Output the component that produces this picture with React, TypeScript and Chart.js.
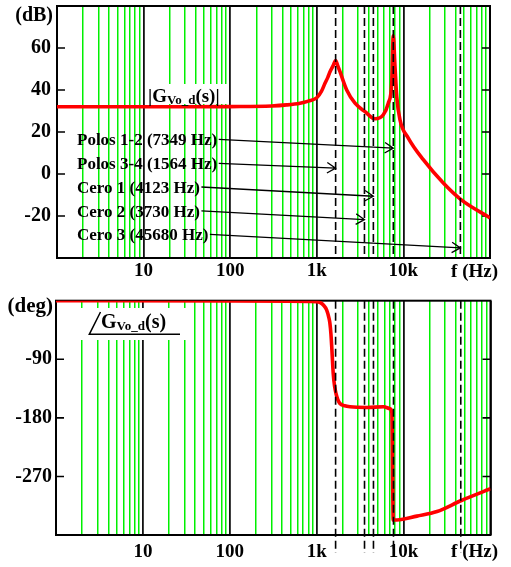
import React, { useEffect, useRef } from "react";
import { Chart, registerables } from "chart.js";
Chart.register(...registerables);

const FONT = "'Liberation Serif', 'Times New Roman', serif";

// x axis (log frequency)
const xMin = 1;
const xMax = 100000;
const decadeStarts = [1, 10, 100, 1000, 10000];
const decadeMultipliers = [1, 2, 3, 4, 5, 6, 7, 8, 9];
const majorTickValues = [10, 100, 1000, 10000];
const majorTickLabels = ["10", "100", "1k", "10k"];

// magnitude |Gvo_d(s)| (dB)
const magFreq = [1, 30, 100, 300, 450, 640, 800, 1000, 1130, 1243, 1340, 1421, 1540, 1652, 1753, 1853, 2215, 2761, 3602, 4700, 5860, 6690, 7330, 7640, 8000, 8370, 9135, 11390, 16980, 28890, 46250, 100000];
const magDb = [32, 32, 32.1, 32.4, 32.9, 33.7, 34.7, 36.3, 39.3, 43.2, 46, 48.7, 51.5, 54, 51.3, 48.7, 40, 33.7, 29.7, 26.3, 28.2, 33.7, 43.2, 65.8, 51, 37, 25.8, 17.1, 6.8, -4.3, -12.2, -20.9];

// phase (deg)
const phaseFreq = [1, 100, 500, 800, 1000, 1100, 1200, 1300, 1380, 1420, 1460, 1490, 1550, 1610, 1670, 1750, 1850, 2100, 2420, 3770, 5860, 7000, 7330, 7600, 8370, 14240, 24240, 46250, 100000];
const phaseDeg = [0, -0.2, -0.6, -1, -1.5, -3, -7, -14, -26, -35, -52, -71, -112, -132, -143, -152, -158, -161.5, -163, -164, -163, -166, -172, -337, -337, -331, -324, -307, -289];

// dashed marker frequencies
const markerFreqs = [1650, 3550, 4500, 7650, 45500];

// annotations
const noteLabels = ["Polos 1-2 (7349 Hz)", "Polos 3-4 (1564 Hz)", "Cero 1 (4123 Hz)", "Cero 2 (3730 Hz)", "Cero 3 (45680 Hz)"];
const noteTargetFreq = [7650, 1650, 4500, 3550, 45500];
const noteTargetDb = [12.3, 2.8, -10.6, -21.7, -35.2];

const magTicks = [-20, 0, 20, 40, 60];
const phaseTicks = [-90, -180, -270];

const gridValues: number[] = [];
decadeStarts.forEach((d) => decadeMultipliers.forEach((m) => gridValues.push(d * m)));
gridValues.push(xMax);

const isDecade = (v: number) => {
  const l = Math.log10(v);
  return Math.abs(l - Math.round(l)) < 1e-9;
};

function drawG(ctx: CanvasRenderingContext2D, x: number, y: number, prefix: string, suffix: string, main: number, sub: number, shift: number) {
  ctx.textAlign = "left";
  ctx.textBaseline = "alphabetic";
  ctx.font = `bold ${main}px ${FONT}`;
  const a = prefix + "G";
  ctx.fillText(a, x, y);
  x += ctx.measureText(a).width;
  ctx.font = `bold ${sub}px ${FONT}`;
  ctx.fillText("Vo_d", x, y + shift);
  x += ctx.measureText("Vo_d").width;
  ctx.font = `bold ${main}px ${FONT}`;
  const b = "(s)" + suffix;
  ctx.fillText(b, x, y);
  return x + ctx.measureText(b).width;
}

function drawArrow(ctx: CanvasRenderingContext2D, x1: number, y1: number, x2: number, y2: number) {
  ctx.beginPath();
  ctx.moveTo(x1, y1);
  ctx.lineTo(x2, y2);
  const a = Math.atan2(y2 - y1, x2 - x1);
  const L = 10, th = 0.55;
  ctx.moveTo(x2 - L * Math.cos(a - th), y2 - L * Math.sin(a - th));
  ctx.lineTo(x2, y2);
  ctx.lineTo(x2 - L * Math.cos(a + th), y2 - L * Math.sin(a + th));
  ctx.stroke();
}

function frameAndTicks(chart: any, ticks: number[]) {
  const { ctx, chartArea: ca } = chart;
  const y = chart.scales.y;
  ctx.save();
  ctx.strokeStyle = "#000";
  ctx.lineWidth = 2;
  ctx.strokeRect(ca.left, ca.top, ca.right - ca.left, ca.bottom - ca.top);
  ctx.lineWidth = 1.6;
  ctx.beginPath();
  ticks.forEach((t) => {
    const py = y.getPixelForValue(t);
    ctx.moveTo(ca.left, py);
    ctx.lineTo(ca.left + 8, py);
    ctx.moveTo(ca.right - 8, py);
    ctx.lineTo(ca.right, py);
  });
  ctx.stroke();
  ctx.restore();
}

function dashedMarkers(chart: any, bottomExtra: number) {
  const { ctx, chartArea: ca } = chart;
  const x = chart.scales.x;
  ctx.save();
  ctx.strokeStyle = "#000";
  ctx.lineWidth = 1.6;
  ctx.setLineDash([8, 4]);
  markerFreqs.forEach((f) => {
    const px = x.getPixelForValue(f);
    ctx.beginPath();
    ctx.moveTo(px, ca.top);
    ctx.lineTo(px, ca.bottom + bottomExtra);
    ctx.stroke();
  });
  ctx.restore();
}

const magPlugin = {
  id: "magDecor",
  beforeDatasetsDraw(chart: any) {
    const ctx = chart.ctx;
    ctx.save();
    ctx.fillStyle = "#fff";
    ctx.fillRect(146, 84, 82, 20);
    ctx.restore();
    frameAndTicks(chart, magTicks);
  },
  afterDatasetsDraw(chart: any) {
    const ctx = chart.ctx;
    dashedMarkers(chart, 0);
    ctx.save();
    ctx.fillStyle = "#000";
    drawG(ctx, 148, 101.5, "|", "|", 19, 13, 2);
    ctx.font = `bold 20px ${FONT}`;
    ctx.textAlign = "right";
    ctx.fillText("(dB)", 53, 21);
    ctx.font = `bold 19px ${FONT}`;
    ctx.fillText("f (Hz)", 498, 276.5);
    const baselines = [145, 169, 192.7, 216.5, 240];
    ctx.textAlign = "left";
    ctx.strokeStyle = "#000";
    ctx.lineWidth = 1.3;
    noteLabels.forEach((t, i) => {
      ctx.font = `bold 17px ${FONT}`;
      ctx.fillText(t, 77, baselines[i]);
      const w = ctx.measureText(t).width;
      const tx = chart.scales.x.getPixelForValue(noteTargetFreq[i]);
      const ty = chart.scales.y.getPixelForValue(noteTargetDb[i]);
      drawArrow(ctx, 77 + w + 1.5, baselines[i] - 5.7, tx, ty);
    });
    ctx.restore();
  },
};

const phasePlugin = {
  id: "phaseDecor",
  beforeDatasetsDraw(chart: any) {
    const ctx = chart.ctx;
    ctx.save();
    ctx.fillStyle = "#fff";
    ctx.fillRect(76, 25, 114, 32);
    ctx.restore();
    frameAndTicks(chart, phaseTicks);
  },
  afterDatasetsDraw(chart: any) {
    const ctx = chart.ctx;
    dashedMarkers(chart, 18);
    ctx.save();
    ctx.fillStyle = "#000";
    ctx.strokeStyle = "#000";
    ctx.lineWidth = 1.5;
    ctx.beginPath();
    ctx.moveTo(100.5, 29);
    ctx.lineTo(89.3, 51.3);
    ctx.lineTo(180, 51.3);
    ctx.stroke();
    drawG(ctx, 101, 44.7, "", "", 20, 13, 2.5);
    ctx.font = `bold 21px ${FONT}`;
    ctx.textAlign = "right";
    ctx.fillText("(deg)", 53, 28.7);
    ctx.font = `bold 19px ${FONT}`;
    ctx.fillText("f (Hz)", 498, 273.7);
    ctx.restore();
  },
};

function makeConfig(freq: number[], vals: number[], yMin: number, yMax: number, yTicks: number[], xHeight: number, yWidth: number, yPad: number, xPad: number, layoutPad: any, plugin: any) {
  return {
    type: "line" as const,
    data: {
      datasets: [
        {
          data: freq.map((f, i) => ({ x: f, y: vals[i] })),
          borderColor: "#ff0000",
          borderWidth: 3.6,
          pointRadius: 0,
          cubicInterpolationMode: "monotone" as const,
          fill: false,
        },
      ],
    },
    options: {
      animation: false as const,
      responsive: false,
      devicePixelRatio: 1,
      layout: { padding: layoutPad },
      plugins: { legend: { display: false }, tooltip: { enabled: false } },
      scales: {
        x: {
          type: "logarithmic" as const,
          min: xMin,
          max: xMax,
          border: { display: false },
          grid: {
            drawTicks: false,
            color: (c: any) => (c.tick && isDecade(c.tick.value) ? "#111" : "#00f000"),
            lineWidth: (c: any) => (c.tick && isDecade(c.tick.value) ? 1.8 : 1.5),
          },
          ticks: {
            autoSkip: false,
            maxRotation: 0,
            padding: xPad,
            color: "#000",
            font: { family: FONT, weight: "bold" as const, size: 19 },
            callback: (v: any) => {
              const idx = majorTickValues.findIndex((m) => Math.abs(m - Number(v)) < 1e-6);
              return idx >= 0 ? majorTickLabels[idx] : "";
            },
          },
          afterBuildTicks: (s: any) => {
            s.ticks = gridValues.map((v) => ({ value: v }));
          },
          afterFit: (s: any) => {
            s.height = xHeight;
            s.paddingLeft = 0;
            s.paddingRight = 0;
            s.paddingTop = 0;
            s.paddingBottom = 0;
          },
        },
        y: {
          type: "linear" as const,
          min: yMin,
          max: yMax,
          border: { display: false },
          grid: { display: false, drawTicks: false },
          ticks: {
            padding: yPad,
            color: "#000",
            font: { family: FONT, weight: "bold" as const, size: 20 },
          },
          afterBuildTicks: (s: any) => {
            s.ticks = yTicks.map((v) => ({ value: v }));
          },
          afterFit: (s: any) => {
            s.width = yWidth;
            s.paddingTop = 0;
            s.paddingBottom = 0;
            s.paddingLeft = 0;
            s.paddingRight = 0;
          },
        },
      },
    },
    plugins: [plugin],
  };
}

export default function App() {
  const topRef = useRef<HTMLCanvasElement>(null);
  const botRef = useRef<HTMLCanvasElement>(null);

  useEffect(() => {
    const c1 = new Chart(
      topRef.current as HTMLCanvasElement,
      makeConfig(magFreq, magDb, -40, 80, magTicks, 25, 57, 6, 2, { top: 6, right: 21, left: 0, bottom: 0 }, magPlugin) as any
    );
    const c2 = new Chart(
      botRef.current as HTMLCanvasElement,
      makeConfig(phaseFreq, phaseDeg, -360, 0, phaseTicks, 32, 56, 4, 6, { top: 17.7, right: 20.5, left: 0, bottom: 0 }, phasePlugin) as any
    );
    return () => {
      c1.destroy();
      c2.destroy();
    };
  }, []);

  return (
    <div style={{ position: "fixed", left: 0, top: 0, width: 511, height: 567, background: "#fff" }}>
      <canvas ref={topRef} width={511} height={283} style={{ position: "absolute", left: 0, top: 0, width: 511, height: 283 }} />
      <canvas ref={botRef} width={511} height={284} style={{ position: "absolute", left: 0, top: 283, width: 511, height: 284 }} />
    </div>
  );
}
